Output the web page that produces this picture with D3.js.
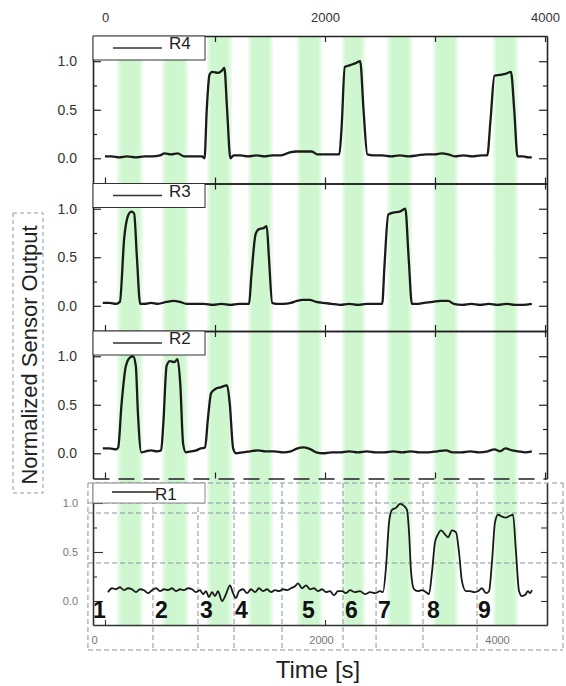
<!DOCTYPE html>
<html>
<head>
<meta charset="utf-8">
<script src="https://cdn.jsdelivr.net/npm/d3@7"></script>
<style>
  body { margin: 0; background: #fff; }
  text { font-family: "Liberation Sans", Arial, sans-serif; }
</style>
</head>
<body>
<div id="chart"></div>
<script>
// Sensor response chart - 4 stacked panels (R4, R3, R2 on top, R1 inset at bottom)

//Exposure windows (green bands) in seconds:
var bandStart = [109, 518, 927, 1300, 1745, 2155, 2564, 2982, 3527];
var bandEnd   = [345, 755, 1155, 1527, 1973, 2364, 2791, 3209, 3755];

//Exposure step numbers printed in the bottom panel:
var stepLabels = ["1", "2", "3", "4", "5", "6", "7", "8", "9"];
var stepLabelTime = [-109, 455, 864, 1182, 1791, 2182, 2482, 2927, 3391];

//Sensor R4:
var r4Time = [0, 60, 130, 200, 280, 360, 430, 500, 540, 600,
  660, 720, 800, 880, 905, 925, 950, 975, 1030, 1060,
  1085, 1110, 1140, 1170, 1230, 1300, 1380, 1450, 1520, 1600,
  1680, 1740, 1820, 1880, 1930, 2000, 2070, 2130, 2150, 2180,
  2230, 2280, 2320, 2350, 2385, 2440, 2520, 2600, 2680, 2760,
  2840, 2920, 3000, 3060, 3120, 3180, 3260, 3340, 3420, 3475,
  3505, 3540, 3590, 3640, 3690, 3720, 3750, 3800, 3850, 3880];
var r4Value = [0.02, 0.02, 0.01, 0.02, 0.01, 0.02, 0.02, 0.03, 0.05, 0.04,
  0.05, 0.02, 0.02, 0.02, 0.00, 0.50, 0.86, 0.89, 0.88, 0.90,
  0.93, 0.50, 0.00, 0.03, 0.03, 0.02, 0.03, 0.02, 0.03, 0.03,
  0.06, 0.07, 0.07, 0.07, 0.04, 0.04, 0.04, 0.04, 0.30, 0.94,
  0.96, 0.98, 1.00, 0.50, 0.04, 0.03, 0.03, 0.02, 0.03, 0.02,
  0.03, 0.04, 0.04, 0.05, 0.04, 0.02, 0.03, 0.02, 0.03, 0.03,
  0.40, 0.85, 0.86, 0.87, 0.89, 0.50, 0.02, 0.02, 0.01, 0.01];

//Sensor R3:
var r3Time = [-20, 40, 100, 135, 175, 210, 240, 265, 290, 320,
  360, 420, 480, 560, 620, 680, 740, 820, 900, 980,
  1060, 1140, 1220, 1310, 1330, 1370, 1400, 1440, 1470, 1490,
  1520, 1560, 1620, 1690, 1745, 1800, 1860, 1920, 1980, 2060,
  2140, 2220, 2300, 2380, 2460, 2520, 2540, 2575, 2620, 2680,
  2730, 2760, 2790, 2830, 2900, 2980, 3050, 3120, 3170, 3250,
  3330, 3410, 3490, 3570, 3650, 3730, 3800, 3880];
var r3Value = [0.03, 0.03, 0.02, 0.04, 0.70, 0.93, 0.97, 0.95, 0.50, 0.02,
  0.02, 0.03, 0.02, 0.04, 0.05, 0.04, 0.02, 0.02, 0.02, 0.01,
  0.02, 0.01, 0.02, 0.02, 0.30, 0.74, 0.79, 0.80, 0.82, 0.50,
  0.03, 0.02, 0.02, 0.03, 0.05, 0.06, 0.06, 0.04, 0.03, 0.02,
  0.01, 0.02, 0.01, 0.02, 0.02, 0.02, 0.40, 0.94, 0.96, 0.97,
  1.00, 0.50, 0.02, 0.02, 0.03, 0.04, 0.05, 0.05, 0.02, 0.01,
  0.02, 0.01, 0.02, 0.01, 0.02, 0.01, 0.01, 0.02];

//Sensor R2:
var r2Time = [-20, 40, 100, 120, 150, 190, 230, 255, 280, 300,
  330, 370, 420, 470, 510, 530, 560, 590, 630, 660,
  685, 710, 735, 780, 830, 870, 910, 935, 965, 1000,
  1050, 1110, 1135, 1165, 1190, 1250, 1320, 1390, 1460, 1540,
  1620, 1690, 1750, 1810, 1870, 1920, 1980, 2060, 2140, 2220,
  2300, 2380, 2460, 2540, 2620, 2700, 2780, 2860, 2940, 3020,
  3100, 3160, 3240, 3320, 3400, 3480, 3540, 3590, 3640, 3700,
  3760, 3820, 3880];
var r2Value = [0.05, 0.05, 0.04, 0.06, 0.50, 0.90, 0.99, 1.00, 0.90, 0.40,
  0.01, 0.02, 0.03, 0.02, 0.03, 0.30, 0.90, 0.95, 0.94, 0.97,
  0.70, 0.10, 0.01, 0.02, 0.03, 0.05, 0.06, 0.35, 0.62, 0.66,
  0.68, 0.70, 0.50, 0.05, 0.00, 0.01, 0.02, 0.03, 0.02, 0.02,
  0.01, 0.02, 0.05, 0.06, 0.04, 0.01, 0.00, 0.01, 0.01, 0.02,
  0.01, 0.02, 0.01, 0.01, 0.02, 0.01, 0.02, 0.01, 0.01, 0.02,
  0.03, 0.01, 0.01, 0.02, 0.01, 0.02, 0.04, 0.02, 0.05, 0.03,
  0.02, 0.01, 0.02];

//Sensor R1:
var r1Time = [27, 64, 100, 136, 173, 209, 245, 282, 318, 355,
  391, 427, 464, 500, 536, 573, 609, 645, 682, 718,
  755, 791, 827, 864, 891, 918, 945, 973, 1000, 1027,
  1064, 1100, 1136, 1164, 1191, 1218, 1255, 1291, 1327, 1364,
  1400, 1436, 1473, 1509, 1545, 1582, 1618, 1655, 1691, 1727,
  1755, 1791, 1827, 1864, 1900, 1936, 1973, 2009, 2045, 2082,
  2118, 2155, 2191, 2227, 2273, 2318, 2364, 2409, 2455, 2500,
  2527, 2555, 2582, 2609, 2645, 2682, 2718, 2745, 2764, 2782,
  2809, 2845, 2882, 2918, 2945, 2973, 3000, 3027, 3055, 3091,
  3118, 3155, 3191, 3218, 3245, 3282, 3318, 3355, 3391, 3427,
  3464, 3491, 3518, 3545, 3573, 3609, 3645, 3682, 3709, 3736,
  3764, 3791, 3818, 3845, 3864, 3882];
var r1Value = [0.09, 0.13, 0.12, 0.14, 0.11, 0.13, 0.12, 0.09, 0.12, 0.11,
  0.08, 0.11, 0.13, 0.10, 0.12, 0.11, 0.13, 0.10, 0.12, 0.11,
  0.13, 0.12, 0.09, 0.11, 0.07, 0.10, 0.04, 0.09, 0.05, 0.10,
  0.00, 0.07, 0.16, 0.08, 0.03, 0.10, 0.12, 0.08, 0.12, 0.09,
  0.13, 0.10, 0.12, 0.09, 0.11, 0.10, 0.12, 0.11, 0.13, 0.15,
  0.18, 0.13, 0.16, 0.12, 0.13, 0.10, 0.12, 0.09, 0.10, 0.06,
  0.10, 0.10, 0.08, 0.11, 0.09, 0.10, 0.07, 0.09, 0.08, 0.10,
  0.09, 0.35, 0.80, 0.93, 0.95, 0.99, 0.97, 0.93, 0.70, 0.30,
  0.12, 0.10, 0.11, 0.09, 0.07, 0.30, 0.60, 0.68, 0.72, 0.68,
  0.65, 0.72, 0.70, 0.50, 0.20, 0.10, 0.10, 0.09, 0.10, 0.13,
  0.08, 0.10, 0.40, 0.80, 0.88, 0.86, 0.85, 0.87, 0.88, 0.50,
  0.10, 0.05, 0.06, 0.10, 0.08, 0.11];

//Axis ticks:
var xTickValues = [0, 1000, 2000, 3000, 4000];
var xLabelValues = [0, 2000, 4000];
var yMajorTicks = [0, 0.5, 1.0];
var yMinorTicks = [0.25, 0.75];
var r1XLabels = [0, 2000, 4000];

//Dashed guide lines of the R1 inset (time / R1 level):
var guideTime = [-155, 436, 845, 1173, 1609, 2164, 2464, 2891, 3382, 4164];
var guideLevel = [1.204, 1.0, 0.898, 0.388, -0.5];

var panelNames = ["R4", "R3", "R2"];
var panelTime = [r4Time, r3Time, r2Time];
var panelValue = [r4Value, r3Value, r2Value];

// ++++++++++++++++++++++++++++++++++++++++++++++++++++++++++++++++++++++++++++

var svgWidth = 566;
var svgHeight = 686;
var plotLeft = 93, plotRight = 547, plotTop = 36;
var panelHeight = 147.5;
var r1Top = 483, r1Bottom = 625;

var svg = d3.select("#chart")
    .append("svg")
    .attr("width", svgWidth)
    .attr("height", svgHeight);

var x = d3.scaleLinear()
    .domain([-109, 4018])
    .range([plotLeft, plotRight]);

var yR1 = d3.scaleLinear()
    .domain([-0.245, 1.204])
    .range([r1Bottom, r1Top]);

//Soft edged green band gradient:
var grad = svg.append("defs").append("linearGradient")
    .attr("id", "bandGrad");
grad.append("stop").attr("offset", "0%").attr("stop-color", "#cff7cf").attr("stop-opacity", 0.35);
grad.append("stop").attr("offset", "18%").attr("stop-color", "#cff7cf").attr("stop-opacity", 1);
grad.append("stop").attr("offset", "82%").attr("stop-color", "#cff7cf").attr("stop-opacity", 1);
grad.append("stop").attr("offset", "100%").attr("stop-color", "#cff7cf").attr("stop-opacity", 0.35);

//Bands:
svg.append("g").selectAll("rect")
    .data(bandStart)
    .enter()
    .append("rect")
    .attr("x", (d, i) => x(d))
    .attr("width", (d, i) => x(bandEnd[i]) - x(d))
    .attr("y", plotTop)
    .attr("height", r1Bottom - plotTop)
    .attr("fill", "url(#bandGrad)");

//Dashed guides of the R1 inset:
var guides = svg.append("g")
    .attr("stroke", "#8a93a0")
    .attr("stroke-width", 1)
    .attr("stroke-dasharray", "5,3");
guides.selectAll("line.v")
    .data(guideTime)
    .enter()
    .append("line")
    .attr("class", "v")
    .attr("x1", d => x(d)).attr("x2", d => x(d))
    .attr("y1", yR1(guideLevel[0])).attr("y2", yR1(guideLevel[guideLevel.length - 1]));
guides.selectAll("line.h")
    .data(guideLevel)
    .enter()
    .append("line")
    .attr("class", "h")
    .attr("x1", x(guideTime[0])).attr("x2", x(guideTime[guideTime.length - 1]))
    .attr("y1", d => yR1(d)).attr("y2", d => yR1(d));

//Y axis title with its dashed box:
svg.append("rect")
    .attr("x", 13).attr("y", 213)
    .attr("width", 30).attr("height", 280)
    .attr("fill", "none")
    .attr("stroke", "#8a9bb0")
    .attr("stroke-dasharray", "4,3");
svg.append("text")
    .attr("transform", "translate(37, 355) rotate(-90)")
    .attr("text-anchor", "middle")
    .attr("font-size", "22px")
    .attr("fill", "#222")
    .text("Normalized Sensor Output");

//Top x labels:
svg.append("g")
    .attr("transform", `translate(0, ${plotTop})`)
    .call(d3.axisTop(x).tickValues(xLabelValues).tickSize(0).tickPadding(14).tickFormat(d3.format("d")))
    .call(g => g.select(".domain").remove())
    .selectAll("text")
    .attr("font-size", "13px")
    .attr("fill", "#333");

var line = d3.line().curve(d3.curveMonotoneX);

//Top three panels:
panelNames.forEach(function(name, i) {
    var top = plotTop + i * panelHeight;
    var bottom = top + panelHeight;
    var y = d3.scaleLinear().domain([-0.26, 1.26]).range([bottom, top]);
    var g = svg.append("g");

    var pts = panelTime[i].map((t, k) => [x(t), y(panelValue[i][k])]);
    g.append("path")
        .attr("d", line(pts))
        .attr("fill", "none")
        .attr("stroke", "#1a1a1a")
        .attr("stroke-width", 2.3);

    //left axis
    var la = g.append("g")
        .attr("transform", `translate(${plotLeft}, 0)`)
        .call(d3.axisLeft(y).tickValues(yMajorTicks).tickSize(-8).tickSizeOuter(0)
            .tickPadding(16).tickFormat(d3.format(".1f")));
    la.selectAll("text").attr("font-size", "14px").attr("fill", "#333");
    g.append("g")
        .attr("transform", `translate(${plotLeft}, 0)`)
        .call(d3.axisLeft(y).tickValues(yMinorTicks).tickSize(-4).tickFormat(""))
        .call(a => a.select(".domain").remove());

    //right axis
    g.append("g")
        .attr("transform", `translate(${plotRight}, 0)`)
        .call(d3.axisRight(y).tickValues(yMajorTicks).tickSize(-8).tickSizeOuter(0).tickFormat(""));
    g.append("g")
        .attr("transform", `translate(${plotRight}, 0)`)
        .call(d3.axisRight(y).tickValues(yMinorTicks).tickSize(-4).tickFormat(""))
        .call(a => a.select(".domain").remove());

    //top and bottom edges with inward ticks
    g.append("g")
        .attr("transform", `translate(0, ${top})`)
        .call(d3.axisBottom(x).tickValues(xTickValues).tickSize(6).tickSizeOuter(0).tickFormat(""));
    var bottomEdge = g.append("g")
        .attr("transform", `translate(0, ${bottom})`)
        .call(d3.axisTop(x).tickValues(xTickValues).tickSize(6).tickSizeOuter(0).tickFormat(""));
    if (i == panelNames.length - 1) {
        bottomEdge.select(".domain").attr("stroke-dasharray", "16,9");
    }

    g.selectAll(".domain").attr("stroke", "#222").attr("stroke-width", 1.6);
    g.selectAll(".tick line").attr("stroke", "#222").attr("stroke-width", 1.2);

    //legend
    g.append("rect")
        .attr("x", plotLeft).attr("y", top)
        .attr("width", 112).attr("height", 24)
        .attr("fill", "#fff")
        .attr("stroke", "#333");
    g.append("line")
        .attr("x1", plotLeft + 20).attr("x2", plotLeft + 69)
        .attr("y1", top + 12).attr("y2", top + 12)
        .attr("stroke", "#333").attr("stroke-width", 1.5);
    g.append("text")
        .attr("x", plotLeft + 76).attr("y", top + 13)
        .attr("font-size", "17px")
        .attr("fill", "#222")
        .text(name);
});

// ++++++++++++++++++++++++++++++++++++++++++++++++++++++++++++++++++++++++++++
//Bottom R1 inset:
var r1 = svg.append("g");

var r1Pts = r1Time.map((t, k) => [x(t), yR1(r1Value[k])]);
r1.append("path")
    .attr("d", line(r1Pts))
    .attr("fill", "none")
    .attr("stroke", "#1a1a1a")
    .attr("stroke-width", 1.8);

var r1Left = r1.append("g")
    .attr("transform", `translate(${plotLeft}, 0)`)
    .call(d3.axisLeft(yR1).tickValues(yMajorTicks).tickSize(-10).tickSizeOuter(0)
        .tickPadding(15).tickFormat(d3.format(".1f")));
r1Left.selectAll("text").attr("font-size", "11px").attr("fill", "#777");
r1.append("g")
    .attr("transform", `translate(${plotLeft}, 0)`)
    .call(d3.axisLeft(yR1).tickValues(yMinorTicks).tickSize(-4).tickFormat(""))
    .call(a => a.select(".domain").remove());
r1.append("g")
    .attr("transform", `translate(${plotRight}, 0)`)
    .call(d3.axisRight(yR1).tickValues(yMajorTicks.concat(yMinorTicks)).tickSize(-6).tickSizeOuter(0).tickFormat(""));
r1.append("g")
    .attr("transform", `translate(0, ${r1Bottom})`)
    .call(d3.axisTop(x).tickValues([0, 2000]).tickSize(5).tickSizeOuter(0).tickFormat(""));
r1.selectAll(".domain").attr("stroke", "#333").attr("stroke-width", 1.6);
r1.selectAll(".tick line").attr("stroke", "#333").attr("stroke-width", 1.1);

//R1 inset x labels (its own, uneven axis):
var r1LabelX = d3.scaleLinear().domain(r1XLabels).range([94, 321, 497]);
r1.append("g")
    .attr("transform", `translate(0, ${r1Bottom})`)
    .call(d3.axisBottom(r1LabelX).tickValues(r1XLabels).tickSize(0).tickPadding(11).tickFormat(d3.format("d")))
    .call(a => a.select(".domain").remove())
    .selectAll("text")
    .attr("font-size", "11px")
    .attr("fill", "#777");

//R1 legend
r1.append("rect")
    .attr("x", plotLeft).attr("y", r1Top)
    .attr("width", 112).attr("height", 20)
    .attr("fill", "#fff")
    .attr("stroke", "#888");
r1.append("line")
    .attr("x1", plotLeft + 19).attr("x2", plotLeft + 63)
    .attr("y1", r1Top + 9).attr("y2", r1Top + 9)
    .attr("stroke", "#222").attr("stroke-width", 1.5);
r1.append("text")
    .attr("x", plotLeft + 62).attr("y", r1Top + 17)
    .attr("font-size", "17px")
    .attr("fill", "#222")
    .text("R1");

//Step numbers
r1.selectAll("text.step")
    .data(stepLabels)
    .enter()
    .append("text")
    .attr("class", "step")
    .attr("x", (d, i) => x(stepLabelTime[i]))
    .attr("y", 618)
    .attr("font-size", "23px")
    .attr("font-weight", "bold")
    .attr("fill", "#111")
    .text(d => d);

//X axis title
svg.append("text")
    .attr("x", 318).attr("y", 678)
    .attr("text-anchor", "middle")
    .attr("font-size", "24px")
    .attr("fill", "#222")
    .text("Time [s]");
</script>
</body>
</html>
